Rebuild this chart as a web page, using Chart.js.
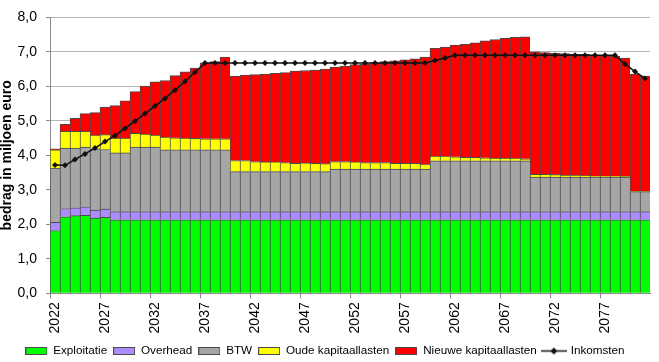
<!DOCTYPE html>
<html>
<head>
<meta charset="utf-8">
<script src="https://cdn.jsdelivr.net/npm/chart.js@4.4.1/dist/chart.umd.min.js"></script>
<style>
  html, body { margin: 0; padding: 0; background: #fff; }
</style>
</head>
<body>
<canvas id="chart" width="659" height="362"></canvas>
<script>
// jaren en reeksen (bedrag in miljoen euro)
const years = [
  2022, 2023, 2024, 2025, 2026, 2027, 2028, 2029, 2030, 2031,
  2032, 2033, 2034, 2035, 2036, 2037, 2038, 2039, 2040, 2041,
  2042, 2043, 2044, 2045, 2046, 2047, 2048, 2049, 2050, 2051,
  2052, 2053, 2054, 2055, 2056, 2057, 2058, 2059, 2060, 2061,
  2062, 2063, 2064, 2065, 2066, 2067, 2068, 2069, 2070, 2071,
  2072, 2073, 2074, 2075, 2076, 2077, 2078, 2079, 2080, 2081
];

const exploitatie = [
  1.82, 2.22, 2.25, 2.26, 2.18, 2.20, 2.13, 2.13, 2.13, 2.13,
  2.13, 2.13, 2.13, 2.13, 2.13, 2.13, 2.13, 2.13, 2.13, 2.13,
  2.13, 2.13, 2.13, 2.13, 2.13, 2.13, 2.13, 2.13, 2.13, 2.13,
  2.13, 2.13, 2.13, 2.13, 2.13, 2.13, 2.13, 2.13, 2.13, 2.13,
  2.13, 2.13, 2.13, 2.13, 2.13, 2.13, 2.13, 2.13, 2.13, 2.13,
  2.13, 2.13, 2.13, 2.13, 2.13, 2.13, 2.13, 2.13, 2.13, 2.13
];

const overhead = [
  0.24, 0.24, 0.23, 0.25, 0.23, 0.24, 0.24, 0.24, 0.24, 0.24,
  0.24, 0.24, 0.24, 0.24, 0.24, 0.24, 0.24, 0.24, 0.24, 0.24,
  0.24, 0.24, 0.24, 0.24, 0.24, 0.24, 0.24, 0.24, 0.24, 0.24,
  0.24, 0.24, 0.24, 0.24, 0.24, 0.24, 0.24, 0.24, 0.24, 0.24,
  0.24, 0.24, 0.24, 0.24, 0.24, 0.24, 0.24, 0.24, 0.24, 0.24,
  0.24, 0.24, 0.24, 0.24, 0.24, 0.24, 0.24, 0.24, 0.24, 0.24
];

const btw = [
  1.57, 1.75, 1.73, 1.73, 1.78, 1.73, 1.70, 1.70, 1.87, 1.87,
  1.87, 1.79, 1.79, 1.79, 1.79, 1.79, 1.79, 1.79, 1.16, 1.16,
  1.16, 1.16, 1.16, 1.16, 1.16, 1.16, 1.16, 1.16, 1.23, 1.23,
  1.23, 1.23, 1.23, 1.23, 1.23, 1.23, 1.23, 1.23, 1.47, 1.47,
  1.47, 1.47, 1.47, 1.47, 1.47, 1.47, 1.47, 1.47, 1.00, 1.00,
  1.00, 1.00, 1.00, 1.00, 1.00, 1.00, 1.00, 1.00, 0.58, 0.58
];

const oudeKapitaallasten = [
  0.53, 0.49, 0.49, 0.46, 0.40, 0.43, 0.43, 0.43, 0.40, 0.38,
  0.35, 0.37, 0.35, 0.34, 0.33, 0.32, 0.32, 0.32, 0.32, 0.32,
  0.29, 0.28, 0.28, 0.26, 0.24, 0.25, 0.24, 0.23, 0.22, 0.22,
  0.21, 0.19, 0.19, 0.19, 0.17, 0.17, 0.17, 0.15, 0.14, 0.14,
  0.12, 0.10, 0.10, 0.09, 0.08, 0.08, 0.08, 0.06, 0.08, 0.08,
  0.07, 0.06, 0.06, 0.04, 0.03, 0.03, 0.03, 0.02, 0.01, 0.01
];

const nieuweKapitaallasten = [
  0.03, 0.20, 0.37, 0.51, 0.65, 0.80, 0.94, 1.08, 1.21, 1.39,
  1.54, 1.64, 1.80, 1.92, 2.04, 2.20, 2.24, 2.37, 2.45, 2.48,
  2.52, 2.55, 2.57, 2.61, 2.67, 2.68, 2.70, 2.74, 2.74, 2.77,
  2.82, 2.86, 2.89, 2.93, 2.97, 3.00, 3.03, 3.10, 3.12, 3.16,
  3.24, 3.28, 3.32, 3.39, 3.44, 3.47, 3.50, 3.54, 3.55, 3.53,
  3.52, 3.52, 3.51, 3.52, 3.51, 3.49, 3.47, 3.43, 3.40, 3.34
];

const inkomsten = [
  3.72, 3.71, 3.88, 4.04, 4.21, 4.40, 4.57, 4.78, 4.99, 5.21,
  5.43, 5.65, 5.89, 6.14, 6.41, 6.68, 6.68, 6.68, 6.68, 6.68,
  6.68, 6.68, 6.68, 6.68, 6.68, 6.68, 6.68, 6.68, 6.68, 6.68,
  6.68, 6.68, 6.68, 6.68, 6.68, 6.68, 6.68, 6.68, 6.75, 6.82,
  6.90, 6.90, 6.90, 6.90, 6.90, 6.90, 6.90, 6.90, 6.90, 6.90,
  6.90, 6.90, 6.90, 6.90, 6.90, 6.90, 6.90, 6.65, 6.43, 6.23
];

const yTicks = [0, 1, 2, 3, 4, 5, 6, 7, 8];

const colors = {
    exploitatie: '#00ff00',
    overhead: '#ad8cff',
    btw: '#a6a6a6',
    oude: '#ffff00',
    nieuwe: '#ff0000',
    line: '#111111',
    barBorder: '#4a4a4a',
    grid: '#b4b4b4',
    axis: '#8c8c8c',
    text: '#000000'
};

Chart.defaults.font.family = '"Liberation Sans", Arial, sans-serif';
Chart.defaults.color = colors.text;

// kleine plaatjes voor de legenda (Excel-stijl)
function boxSwatch(fill) {
    const c = document.createElement('canvas');
    c.width = 22; c.height = 8;
    const g = c.getContext('2d');
    g.fillStyle = colors.barBorder;
    g.fillRect(0, 0, 22, 8);
    g.fillStyle = fill;
    g.fillRect(1, 1, 20, 6);
    return c;
}

function lineSwatch() {
    const c = document.createElement('canvas');
    c.width = 26; c.height = 9;
    const g = c.getContext('2d');
    g.strokeStyle = colors.line;
    g.lineWidth = 1.5;
    g.beginPath();
    g.moveTo(0, 4.5); g.lineTo(26, 4.5);
    g.stroke();
    g.fillStyle = colors.line;
    g.beginPath();
    g.moveTo(13, 1); g.lineTo(16.5, 4.5); g.lineTo(13, 8); g.lineTo(9.5, 4.5);
    g.closePath();
    g.fill();
    return c;
}

function barSet(label, data, color) {
    return {
        type: 'bar',
        label,
        data,
        backgroundColor: color,
        borderColor: colors.barBorder,
        borderWidth: { left: 1, top: 1, right: 0, bottom: 0 },
        borderSkipped: false,
        stack: 'kosten',
        order: 1,
        barPercentage: 1,
        categoryPercentage: 1,
        swatch: boxSwatch(color)
    };
}

const datasets = [
    barSet('Exploitatie', exploitatie, colors.exploitatie),
    barSet('Overhead', overhead, colors.overhead),
    barSet('BTW', btw, colors.btw),
    barSet('Oude kapitaallasten', oudeKapitaallasten, colors.oude),
    barSet('Nieuwe kapitaallasten', nieuweKapitaallasten, colors.nieuwe),
    {
        type: 'line',
        label: 'Inkomsten',
        data: inkomsten,
        borderColor: colors.line,
        backgroundColor: colors.line,
        borderWidth: 1.5,
        pointStyle: 'rectRot',
        pointRadius: 3,
        pointBackgroundColor: colors.line,
        pointBorderWidth: 0,
        stack: 'inkomsten',
        order: 0,
        swatch: lineSwatch()
    }
];

const ctx = document.getElementById('chart').getContext('2d');

new Chart(ctx, {
    data: { labels: years, datasets },
    options: {
        responsive: false,
        animation: false,
        layout: { padding: { left: 0, right: 9, top: 11.7, bottom: -4.85 } },
        plugins: {
            tooltip: { enabled: false },
            legend: {
                position: 'bottom',
                sort: (a, b) => a.datasetIndex - b.datasetIndex,
                labels: {
                    usePointStyle: true,
                    pointStyleWidth: 22,
                    boxHeight: 8,
                    padding: 6,
                    color: colors.text,
                    font: { size: 11.7 },
                    generateLabels: chart => chart.data.datasets.map((ds, i) => ({
                        text: ds.label,
                        pointStyle: ds.swatch,
                        fillStyle: ds.backgroundColor,
                        strokeStyle: ds.borderColor,
                        lineWidth: 0,
                        hidden: false,
                        datasetIndex: i
                    }))
                }
            }
        },
        scales: {
            x: {
                stacked: true,
                offset: true,
                grid: {
                    offset: true,
                    drawOnChartArea: false,
                    drawTicks: true,
                    tickLength: 5,
                    tickColor: c => (c.index % 5 === 0 ? colors.axis : 'rgba(0,0,0,0)')
                },
                border: { color: colors.axis, width: 1 },
                ticks: {
                    autoSkip: false,
                    minRotation: 90,
                    maxRotation: 90,
                    padding: 4,
                    font: { size: 14 },
                    callback: (v, i) => (i % 5 === 0 ? String(years[i]) : '')
                },
                afterFit: scale => {
                    scale.height = 45.85;
                    scale.paddingLeft = 0;
                    scale.paddingRight = 0;
                }
            },
            y: {
                stacked: true,
                min: yTicks[0],
                max: yTicks[yTicks.length - 1],
                afterBuildTicks: scale => { scale.ticks = yTicks.map(v => ({ value: v })); },
                grid: {
                    color: colors.grid,
                    lineWidth: 1,
                    drawTicks: true,
                    tickLength: 4,
                    tickColor: colors.axis
                },
                border: { color: colors.axis, width: 1 },
                ticks: {
                    padding: 9,
                    font: { size: 14 },
                    callback: v => v.toFixed(1).replace('.', ',')
                },
                title: {
                    display: true,
                    text: 'bedrag in miljoen euro',
                    padding: 0,
                    font: { size: 14, weight: 'bold', lineHeight: 1 }
                },
                afterFit: scale => { scale.width = 50; }
            }
        }
    }
});
</script>
</body>
</html>
